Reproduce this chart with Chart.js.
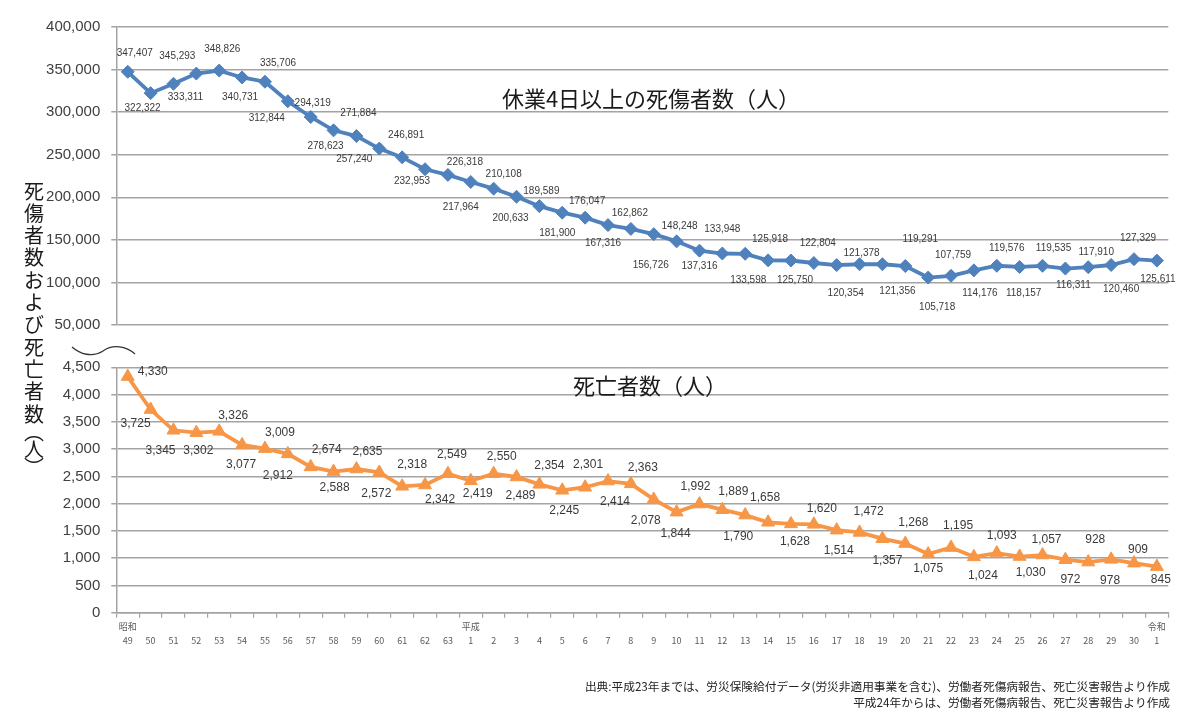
<!DOCTYPE html>
<html><head><meta charset="utf-8">
<script src="https://cdn.jsdelivr.net/npm/chart.js@4.4.1/dist/chart.umd.min.js"></script>
<style>
html,body{margin:0;padding:0;background:#fff;}
#wrap{position:relative;width:1200px;height:726px;overflow:hidden;}
canvas{position:absolute;left:0;top:0;}
</style></head>
<body><div id="wrap"><canvas id="c1" width="1200" height="726"></canvas><canvas id="c2" width="1200" height="726"></canvas></div>
<script>
// ---- data ----
const eras  = ['昭和','','','','','','','','','','','','','','','平成','','','','','','','','','','','','','','','','','','','','','','','','','','','','','','令和'];
const years = ['49','50','51','52','53','54','55','56','57','58','59','60','61','62','63',
  '1','2','3','4','5','6','7','8','9','10','11','12','13','14','15','16','17','18','19','20','21','22','23','24','25','26','27','28','29','30','1'];
const injuries = [347407,322322,333311,345293,348826,340731,335706,312844,294319,278623,271884,257240,246891,232953,226318,
  217964,210108,200633,189589,181900,176047,167316,162862,156726,148248,137316,133948,133598,125918,125750,122804,120354,121378,121356,119291,105718,107759,114176,119576,118157,119535,116311,117910,120460,127329,125611];
const deaths = [4330,3725,3345,3302,3326,3077,3009,2912,2674,2588,2635,2572,2318,2342,2549,
  2419,2550,2489,2354,2245,2301,2414,2363,2078,1844,1992,1889,1790,1658,1628,1620,1514,1472,1357,1268,1075,1195,1024,1093,1030,1057,972,928,978,909,845];
const injuryTicks = {min:50000, max:400000, step:50000};
const deathTicks  = {min:0, max:4500, step:500};

// value-label nudges relative to each point (annotation layout)
const injuryLabelDx = [7,-8,12,-19,3,-2,13,-21,2,-8,2,-25,4,-13,17,-10,10,-6,2,-5,2,-5,-1,-3,3,0,0,3,2,4,4,9,2,15,15,9,2,6,10,4,11,8,8,10,4,1];
const injuryLabelDy = [-19,15,13,-17,-21,20,-18,17,-14,16,-23,11,-22,12,-13,25,-14,22,-15,21,-16,18,-16,31,-15,16,-24,26,-21,20,-20,28,-11,27,-27,30,-21,23,-18,26,-18,17,-15,24,-21,19];
const deathLabelDx = [25,-15,-13,2,14,-1,15,-10,16,1,11,-3,10,15,4,7,8,4,10,2,3,7,12,-8,-1,-4,11,-7,-3,4,8,2,9,5,8,0,7,9,5,11,4,5,7,-1,4,4];
const deathLabelDy = [-5,14,20,18,-16,20,-16,22,-17,16,-17,21,-22,15,-19,13,-17,19,-19,20,-23,21,-16,21,22,-17,-18,22,-25,18,-16,21,-21,22,-21,15,-22,19,-17,16,-15,20,-22,21,-13,13];

const labels = years.map((y,i)=>[eras[i], y]);
const fmt = v => v.toLocaleString('en-US');
const GRID = '#a3a3a3';
const JP = '"Noto Sans CJK JP", "Noto Sans", sans-serif';
const NUM = '"Liberation Sans", Arial, sans-serif';
const LEFT = 116.3, RIGHT = 1168.3;

function labelPlugin(dxs, dys, size){
  return {
    id:'vlabels'+size,
    afterDatasetsDraw(chart){
      const ctx = chart.ctx, meta = chart.getDatasetMeta(0), data = chart.data.datasets[0].data;
      ctx.save();
      ctx.font = size + 'px ' + NUM;
      ctx.fillStyle = '#3a3a3a';
      ctx.textAlign = 'center';
      ctx.textBaseline = 'middle';
      meta.data.forEach((p,i)=>{
        ctx.fillText(fmt(data[i]), p.x + dxs[i], p.y + dys[i]);
      });
      ctx.restore();
    }
  };
}

const decoTop = {
  id:'decoTop',
  afterDraw(chart){
    const ctx = chart.ctx;
    ctx.save();
    ctx.fillStyle = '#1a1a1a';
    ctx.font = '22px ' + JP;
    ctx.textAlign = 'center'; ctx.textBaseline = 'middle';
    ctx.fillText('休業4日以上の死傷者数（人）', 651, 99);
    // vertical axis title
    ctx.font = '20px ' + JP;
    const chars = ['死','傷','者','数','お','よ','び','死','亡','者','数'];
    chars.forEach((c,i)=> ctx.fillText(c, 34, 191 + i*22.3));
    ctx.fillText('︵', 34, 432);
    ctx.fillText('人', 34, 449);
    ctx.fillText('︶', 34, 467);
    // break mark
    ctx.strokeStyle = '#333'; ctx.lineWidth = 1.3;
    ctx.beginPath();
    ctx.moveTo(72, 347);
    ctx.bezierCurveTo(80, 354, 92, 358, 103, 351);
    ctx.bezierCurveTo(113, 344, 126, 346, 135, 354);
    ctx.stroke();
    ctx.restore();
  }
};

const decoBottom = {
  id:'decoBottom',
  afterDraw(chart){
    const ctx = chart.ctx;
    ctx.save();
    ctx.fillStyle = '#1a1a1a';
    ctx.font = '22px ' + JP;
    ctx.textAlign = 'center'; ctx.textBaseline = 'middle';
    ctx.fillText('死亡者数（人）', 650, 386);
    ctx.font = '11.7px ' + JP;
    ctx.textAlign = 'right';
    ctx.fillStyle = '#222';
    ctx.fillText('出典:平成23年までは、労災保険給付データ(労災非適用事業を含む)、労働者死傷病報告、死亡災害報告より作成', 1170, 687);
    ctx.fillText('平成24年からは、労働者死傷病報告、死亡災害報告より作成', 1170, 703);
    ctx.restore();
  }
};

function yAxis(t){
  return {
    min:t.min, max:t.max,
    ticks:{stepSize:t.step, padding:11, color:'#404040', font:{family:NUM, size:15}, callback:v=>fmt(v)},
    grid:{color:GRID, lineWidth:1.5, tickLength:5},
    border:{color:GRID, width:1.5},
    afterFit:s=>{ s.width = LEFT; }
  };
}

const common = {
  responsive:false, animation:false, events:[],
  plugins:{legend:{display:false}, tooltip:{enabled:false}}
};

new Chart(document.getElementById('c1'), {
  type:'line',
  data:{labels, datasets:[{data:injuries, borderColor:'#4F81BD', backgroundColor:'#4F81BD', borderWidth:3.8,
    pointStyle:'rectRot', pointRadius:6.5, pointBorderWidth:1, tension:0}]},
  options:Object.assign({}, common, {
    layout:{padding:{left:0, right:1200-RIGHT, top:27, bottom:726-325}},
    scales:{
      x:{type:'category', display:false, offset:true},
      y:yAxis(injuryTicks)
    }
  }),
  plugins:[labelPlugin(injuryLabelDx, injuryLabelDy, 10), decoTop]
});

new Chart(document.getElementById('c2'), {
  type:'line',
  data:{labels, datasets:[{data:deaths, borderColor:'#F79646', backgroundColor:'#F79646', borderWidth:3.8,
    pointStyle:'triangle', pointRadius:7.5, pointBorderWidth:1, tension:0}]},
  options:Object.assign({}, common, {
    layout:{padding:{left:0, right:1200-RIGHT, top:367.3, bottom:726-612.7-40}},
    scales:{
      x:{type:'category', offset:true,
        ticks:{autoSkip:false, maxRotation:0, minRotation:0, padding:2, color:'#595959', font:{family:JP, size:9, lineHeight:1.55}},
        grid:{display:true, drawOnChartArea:false, drawTicks:true, tickLength:5, offset:true, color:GRID, lineWidth:1.2},
        border:{color:GRID, width:1.5},
        afterFit:s=>{ s.height = 40; }
      },
      y:yAxis(deathTicks)
    }
  }),
  plugins:[labelPlugin(deathLabelDx, deathLabelDy, 12), decoBottom]
});
</script>
</body></html>
